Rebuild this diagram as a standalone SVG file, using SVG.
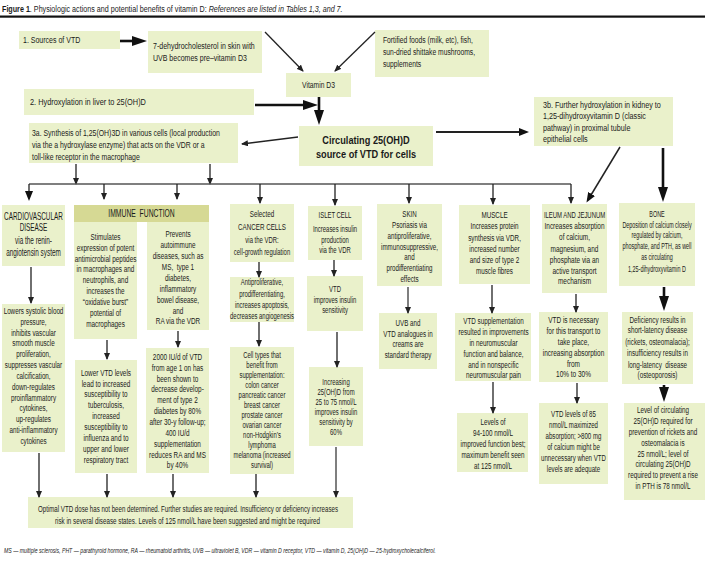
<svg xmlns="http://www.w3.org/2000/svg" width="705" height="578" viewBox="0 0 705 578">
<defs>
<style>
.bx{fill:#eaf1cb}
.hd{fill:#d6d994}
.t{font-family:"Liberation Sans",Arial,sans-serif;font-size:9px;fill:#1a1a1a;text-anchor:middle}
.l{text-anchor:start}
.h{font-size:10px}
.bd{font-weight:bold}
.c{fill:none;stroke:#222;stroke-width:1.3}
.k{fill:none;stroke:#111;stroke-width:2.6}
.g{fill:none;stroke:#555;stroke-width:1.5}
</style>
<marker id="s" viewBox="0 0 7 6" refX="6" refY="3" markerWidth="7" markerHeight="6" markerUnits="userSpaceOnUse" orient="auto"><path d="M0,0L7,3L0,6z" fill="#222"/></marker>
<marker id="m" viewBox="0 0 10 8" refX="7" refY="4" markerWidth="10" markerHeight="8" markerUnits="userSpaceOnUse" orient="auto"><path d="M0,0L10,4L0,8z" fill="#111"/></marker>
<marker id="b" viewBox="0 0 15 10" refX="9" refY="5" markerWidth="15" markerHeight="10" markerUnits="userSpaceOnUse" orient="auto"><path d="M0,0L15,5L0,10z" fill="#111"/></marker>
</defs>
<rect width="705" height="578" fill="#fff"/>

<g id="title">
<text class="t l" style="font-size:9.5px" transform="matrix(.755 0 0 1 2 0)"><tspan x="0" y="12" class="bd">Figure 1</tspan><tspan>. Physiologic actions and potential benefits of vitamin D: </tspan><tspan font-style="italic">References are listed in Tables 1,3, and 7.</tspan></text>
<rect x="0" y="15.5" width="705" height="2.2" fill="#111"/>
</g>

<g id="sources"><rect class="bx" x="19" y="31" width="101" height="18"/>
<text class="t l" transform="matrix(.78 0 0 1 23 0)"><tspan x="0" y="43.5">1. Sources of VTD</tspan></text></g>

<g id="skin-synthesis"><rect class="bx" x="148" y="31" width="114" height="42"/>
<text class="t l" transform="matrix(.78 0 0 1 153 0)"><tspan x="0" y="49">7-dehydrocholesterol in skin with</tspan><tspan x="0" y="61.5">UVB becomes pre–vitamin D3</tspan></text></g>

<g id="foods"><rect class="bx" x="375" y="30" width="114" height="47"/>
<text class="t l" transform="matrix(.75 0 0 1 383 0)"><tspan x="0" y="43.5">Fortified foods (milk, etc), fish,</tspan><tspan x="0" y="55.5">sun-dried shittake mushrooms,</tspan><tspan x="0" y="67.5">supplements</tspan></text></g>

<g id="vitd3"><rect class="bx" x="286" y="73" width="65" height="24"/>
<text class="t" transform="matrix(.75 0 0 1 318.5 0)"><tspan x="0" y="88">Vitamin D3</tspan></text></g>

<g id="liver"><rect class="bx" x="24" y="89" width="230" height="26"/>
<text class="t l" transform="matrix(.82 0 0 1 30 0)"><tspan x="0" y="105">2. Hydroxylation in liver to 25(OH)D</tspan></text></g>

<g id="synthesis-3a"><rect class="bx" x="29" y="123" width="209" height="40"/>
<text class="t l" transform="matrix(.767 0 0 1 32 0)"><tspan x="0" y="136.5">3a. Synthesis of 1,25(OH)3D in various cells (local production</tspan><tspan x="0" y="148.5">via the a hydroxylase enzyme) that acts on the VDR or a</tspan><tspan x="0" y="160">toll-like receptor in the macrophage</tspan></text></g>

<g id="circulating"><rect class="bx" x="299" y="126" width="134" height="40"/>
<text class="t bd" style="font-size:11.5px" transform="matrix(.8 0 0 1 366 0)"><tspan x="0" y="144.5">Circulating 25(OH)D</tspan><tspan x="0" y="158">source of VTD for cells</tspan></text></g>

<g id="kidney-3b"><rect class="bx" x="534" y="97" width="139" height="49"/>
<text class="t l" transform="matrix(.8 0 0 1 543 0)"><tspan x="0" y="108.3">3b. Further hydroxylation in kidney to</tspan><tspan x="0" y="119.3">1,25-dihydroxyvitamin D (classic</tspan><tspan x="0" y="130.6">pathway) in proximal tubule</tspan><tspan x="0" y="141.6">epithelial cells</tspan></text></g>

<g id="cardio"><rect class="bx" x="2" y="205" width="63" height="61"/>
<text class="t h" transform="matrix(.64 0 0 1 33.5 0)"><tspan x="0" y="220">CARDIOVASCULAR</tspan><tspan x="0" y="231.5">DISEASE</tspan><tspan x="0" y="244.5">via the renin-</tspan><tspan x="0" y="256.5">angiotensin system</tspan></text></g>

<g id="cardio-effects"><rect class="bx" x="2" y="304" width="63" height="148"/>
<text class="t" transform="matrix(.7 0 0 1 33.5 0)"><tspan x="0" y="314">Lowers systolic blood</tspan><tspan x="0" y="324.8">pressure,</tspan><tspan x="0" y="335.7">inhibits vascular</tspan><tspan x="0" y="346.5">smooth muscle</tspan><tspan x="0" y="357.3">proliferation,</tspan><tspan x="0" y="368.2">suppresses vascular</tspan><tspan x="0" y="379">calcification,</tspan><tspan x="0" y="389.8">down-regulates</tspan><tspan x="0" y="400.7">proinflammatory</tspan><tspan x="0" y="411.5">cytokines,</tspan><tspan x="0" y="422.3">up-regulates</tspan><tspan x="0" y="433.2">anti-inflammatory</tspan><tspan x="0" y="444">cytokines</tspan></text></g>

<g id="immune-header"><rect class="hd" x="74" y="205" width="135" height="17"/>
<text class="t h" transform="matrix(.68 0 0 1 141.5 0)"><tspan x="0" y="217.5">IMMUNE&#160; FUNCTION</tspan></text></g>

<g id="immune-stimulates"><rect class="bx" x="74" y="222" width="63" height="117"/>
<text class="t" transform="matrix(.71 0 0 1 105.5 0)"><tspan x="0" y="240">Stimulates</tspan><tspan x="0" y="250.6">expression of potent</tspan><tspan x="0" y="261.6">antimicrobial peptides</tspan><tspan x="0" y="272.3">in macrophages and</tspan><tspan x="0" y="283.3">neutrophils, and</tspan><tspan x="0" y="294">increases the</tspan><tspan x="0" y="305">“oxidative burst”</tspan><tspan x="0" y="316">potential of</tspan><tspan x="0" y="326.6">macrophages</tspan></text></g>

<g id="immune-prevents"><rect class="bx" x="147" y="222" width="62" height="108"/>
<text class="t" transform="matrix(.71 0 0 1 178 0)"><tspan x="0" y="237.3">Prevents</tspan><tspan x="0" y="248.3">autoimmune</tspan><tspan x="0" y="259.3">diseases, such as</tspan><tspan x="0" y="270">MS,&#160; type 1</tspan><tspan x="0" y="280.6">diabetes,</tspan><tspan x="0" y="291.6">inflammatory</tspan><tspan x="0" y="302.6">bowel disease,</tspan><tspan x="0" y="314">and</tspan><tspan x="0" y="324">RA via the VDR</tspan></text></g>

<g id="immune-lower"><rect class="bx" x="75" y="360" width="62" height="113"/>
<text class="t" transform="matrix(.71 0 0 1 106 0)"><tspan x="0" y="376">Lower VTD levels</tspan><tspan x="0" y="386.6">lead to increased</tspan><tspan x="0" y="397.3">susceptibility to</tspan><tspan x="0" y="408.3">tuberculosis,</tspan><tspan x="0" y="419">increased</tspan><tspan x="0" y="429.6">susceptibility to</tspan><tspan x="0" y="441">influenza and to</tspan><tspan x="0" y="451.6">upper and lower</tspan><tspan x="0" y="462.6">respiratory tract</tspan></text></g>

<g id="immune-2000"><rect class="bx" x="146" y="348" width="63" height="125"/>
<text class="t" transform="matrix(.71 0 0 1 177.5 0)"><tspan x="0" y="360">2000 IU/d of VTD</tspan><tspan x="0" y="370.9">from age 1 on has</tspan><tspan x="0" y="381.7">been shown to</tspan><tspan x="0" y="392.5">decrease develop-</tspan><tspan x="0" y="403.4">ment of type 2</tspan><tspan x="0" y="414.2">diabetes by 80%</tspan><tspan x="0" y="425.1">after 30-y follow-up;</tspan><tspan x="0" y="435.9">400 IU/d</tspan><tspan x="0" y="446.8">supplementation</tspan><tspan x="0" y="457.6">reduces RA and MS</tspan><tspan x="0" y="468.5">by 40%</tspan></text></g>

<g id="cancer"><rect class="bx" x="230" y="204" width="64" height="58"/>
<text class="t" transform="matrix(.66 0 0 1 262 0)"><tspan x="0" y="216.6" style="font-size:9.5px">Selected</tspan><tspan x="0" y="230" style="font-size:9.5px">CANCER CELLS</tspan><tspan x="0" y="242.6">via the VDR:</tspan><tspan x="0" y="255">cell-growth regulation</tspan></text></g>

<g id="cancer-effects"><rect class="bx" x="230" y="277" width="64" height="45"/>
<text class="t" transform="matrix(.66 0 0 1 262 0)"><tspan x="0" y="285">Antiproliferative,</tspan><tspan x="0" y="296.6">prodifferentiating,</tspan><tspan x="0" y="307.6">increases apoptosis,</tspan><tspan x="0" y="319.3">decreases angiogenesis</tspan></text></g>

<g id="cancer-types"><rect class="bx" x="230" y="347" width="64" height="127"/>
<text class="t" transform="matrix(.66 0 0 1 262 0)"><tspan x="0" y="358.3">Cell types that</tspan><tspan x="0" y="368.3">benefit from</tspan><tspan x="0" y="378.3">supplementation:</tspan><tspan x="0" y="388.3">colon cancer</tspan><tspan x="0" y="398.3">pancreatic cancer</tspan><tspan x="0" y="408.3">breast cancer</tspan><tspan x="0" y="418.3">prostate cancer</tspan><tspan x="0" y="428.3">ovarian cancer</tspan><tspan x="0" y="438.3">non-Hodgkin’s</tspan><tspan x="0" y="448.3">lymphoma</tspan><tspan x="0" y="458.3">melanoma (increased</tspan><tspan x="0" y="468.3">survival)</tspan></text></g>

<g id="islet"><rect class="bx" x="308" y="206" width="54" height="54"/>
<text class="t" transform="matrix(.66 0 0 1 335 0)"><tspan x="0" y="218.3">ISLET CELL</tspan><tspan x="0" y="231.6">Increases insulin</tspan><tspan x="0" y="242.6">production</tspan><tspan x="0" y="253.3">via the VDR</tspan></text></g>

<g id="islet-sensitivity"><rect class="bx" x="307" y="276" width="56" height="55"/>
<text class="t" transform="matrix(.66 0 0 1 335 0)"><tspan x="0" y="291.6">VTD</tspan><tspan x="0" y="302.6">improves insulin</tspan><tspan x="0" y="313.3">sensitivity</tspan></text></g>

<g id="islet-increase"><rect class="bx" x="309" y="367" width="54" height="79"/>
<text class="t" transform="matrix(.66 0 0 1 336 0)"><tspan x="0" y="385">Increasing</tspan><tspan x="0" y="395">25(OH)D from</tspan><tspan x="0" y="405">25 to 75 nmol/L</tspan><tspan x="0" y="415">improves insulin</tspan><tspan x="0" y="425">sensitivity by</tspan><tspan x="0" y="435.5">60%</tspan></text></g>

<g id="skin"><rect class="bx" x="377" y="204" width="65" height="82"/>
<text class="t" transform="matrix(.69 0 0 1 409.5 0)"><tspan x="0" y="216.6">SKIN</tspan><tspan x="0" y="228.3">Psoriasis via</tspan><tspan x="0" y="239.3">antiproliferative,</tspan><tspan x="0" y="250">immunosuppressive,</tspan><tspan x="0" y="260">and</tspan><tspan x="0" y="270.6">prodifferentiating</tspan><tspan x="0" y="281.6">effects</tspan></text></g>

<g id="skin-therapy"><rect class="bx" x="379" y="313" width="58" height="56"/>
<text class="t" transform="matrix(.69 0 0 1 408 0)"><tspan x="0" y="326">UVB and</tspan><tspan x="0" y="336.6">VTD analogues in</tspan><tspan x="0" y="347.3">creams are</tspan><tspan x="0" y="358.3">standard therapy</tspan></text></g>

<g id="muscle"><rect class="bx" x="459" y="205" width="71" height="79"/>
<text class="t" transform="matrix(.7 0 0 1 494.5 0)"><tspan x="0" y="218.3">MUSCLE</tspan><tspan x="0" y="229.3">Increases protein</tspan><tspan x="0" y="240.6">synthesis via VDR,</tspan><tspan x="0" y="251.6">increased number</tspan><tspan x="0" y="262.6">and size of type 2</tspan><tspan x="0" y="274">muscle fibres</tspan></text></g>

<g id="muscle-supplementation"><rect class="bx" x="455" y="313" width="76" height="68"/>
<text class="t" transform="matrix(.7 0 0 1 493.5 0)"><tspan x="0" y="324">VTD supplementation</tspan><tspan x="0" y="335">resulted in improvements</tspan><tspan x="0" y="346">in neuromuscular</tspan><tspan x="0" y="356.6">function and balance,</tspan><tspan x="0" y="367.6">and in nonspecific</tspan><tspan x="0" y="378.3">neuromuscular pain</tspan></text></g>

<g id="muscle-levels"><rect class="bx" x="457" y="413" width="71" height="59"/>
<text class="t" transform="matrix(.7 0 0 1 493 0)"><tspan x="0" y="425">Levels of</tspan><tspan x="0" y="436">94-100 nmol/L</tspan><tspan x="0" y="446.6">improved function best;</tspan><tspan x="0" y="457.6">maximum benefit seen</tspan><tspan x="0" y="468.6">at 125 nmol/L</tspan></text></g>

<g id="ileum"><rect class="bx" x="542" y="204" width="65" height="89"/>
<text class="t" transform="matrix(.66 0 0 1 574.5 0)"><tspan x="0" y="217.6">ILEUM AND JEJUNUM</tspan></text>
<text class="t" transform="matrix(.72 0 0 1 574.5 0)"><tspan x="0" y="229.3">Increases absorption</tspan><tspan x="0" y="240">of calcium,</tspan><tspan x="0" y="251.6">magnesium, and</tspan><tspan x="0" y="262.6">phosphate via an</tspan><tspan x="0" y="274">active transport</tspan><tspan x="0" y="284.3">mechanism</tspan></text></g>

<g id="ileum-transport"><rect class="bx" x="539" y="312" width="69" height="70"/>
<text class="t" transform="matrix(.72 0 0 1 573.5 0)"><tspan x="0" y="322.6">VTD is necessary</tspan><tspan x="0" y="334">for this transport to</tspan><tspan x="0" y="345">take place,</tspan><tspan x="0" y="356">increasing absorption</tspan><tspan x="0" y="366.6">from</tspan><tspan x="0" y="376.6">10% to 30%</tspan></text></g>

<g id="ileum-levels"><rect class="bx" x="539" y="403" width="69" height="81"/>
<text class="t" transform="matrix(.68 0 0 1 573.5 0)"><tspan x="0" y="417.3">VTD levels of 85</tspan><tspan x="0" y="428.3">nmol/L maximized</tspan><tspan x="0" y="439">absorption; &gt;800 mg</tspan><tspan x="0" y="450">of calcium might be</tspan><tspan x="0" y="461">unnecessary when VTD</tspan><tspan x="0" y="471.6">levels are adequate</tspan></text></g>

<g id="bone"><rect class="bx" x="619" y="203" width="76" height="83"/>
<text class="t" transform="matrix(.6 0 0 1 657 0)"><tspan x="0" y="216.6">BONE</tspan><tspan x="0" y="227.6">Deposition of calcium closely</tspan><tspan x="0" y="238.3">regulated by calcium,</tspan><tspan x="0" y="249.3">phosphate, and PTH, as well</tspan><tspan x="0" y="260">as circulating</tspan><tspan x="0" y="271.6">1,25-dihydroxyvitamin D</tspan></text></g>

<g id="bone-deficiency"><rect class="bx" x="622" y="312" width="71" height="72"/>
<text class="t" transform="matrix(.7 0 0 1 657.5 0)"><tspan x="0" y="322.6">Deficiency results in</tspan><tspan x="0" y="333.3">short-latency disease</tspan><tspan x="0" y="345">(rickets, osteomalacia);</tspan><tspan x="0" y="356">insufficiency results in</tspan><tspan x="0" y="367.6">long-latency&#160; disease</tspan><tspan x="0" y="378.3">(osteoporosis)</tspan></text></g>

<g id="bone-levels"><rect class="bx" x="624" y="403" width="81" height="97"/>
<text class="t" transform="matrix(.7 0 0 1 663 0)"><tspan x="0" y="413.3">Level of circulating</tspan><tspan x="0" y="424.3">25(OH)D required for</tspan><tspan x="0" y="435">prevention of rickets and</tspan><tspan x="0" y="446">osteomalacia is</tspan><tspan x="0" y="456.6">25 nmol/L; level of</tspan><tspan x="0" y="467.3">circulating 25(OH)D</tspan><tspan x="0" y="478.3">required to prevent a rise</tspan><tspan x="0" y="489.3">in PTH is 78 nmol/L</tspan></text></g>

<g id="optimal"><rect class="bx" x="28" y="497" width="325" height="31"/>
<text class="t l" x="38" y="511.5" textLength="300" lengthAdjust="spacingAndGlyphs">Optimal VTD dose has not been determined. Further studies are required. Insufficiency or deficiency increases</text>
<text class="t l" x="55" y="523.5" textLength="265" lengthAdjust="spacingAndGlyphs">risk in several disease states. Levels of 125 nmol/L have been suggested and might be required</text></g>

<g id="footnote"><text class="t l" style="font-size:8px;font-style:italic" transform="matrix(.647 0 0 1 4 0)"><tspan x="0" y="553">MS — multiple sclerosis, PHT — parathyroid hormone, RA — rheumatoid arthritis, UVB — ultraviolet B, VDR — vitamin D receptor, VTD — vitamin D, 25(OH)D — 25-hydroxycholecalciferol.</tspan></text></g>

<g id="connectors">
<path class="k" d="M120,41H141" marker-end="url(#b)"/>
<path class="c" d="M265,32L303,71" marker-end="url(#s)"/>
<path class="c" d="M375,32L335,71" marker-end="url(#s)"/>
<path class="k" d="M255,105H312" marker-end="url(#b)"/>
<path class="k" d="M319,97V119" marker-end="url(#b)"/>
<path class="c" d="M298,137L242,144" marker-end="url(#s)"/>
<path class="c" style="stroke-width:2" d="M436,132H526" marker-end="url(#m)"/>
<path class="c" d="M76,164V184" marker-end="url(#s)"/>
<path class="c" d="M210,164V184" marker-end="url(#s)"/>
<path class="g" d="M29,184H571"/>
<path class="c" d="M29,184V198" marker-end="url(#m)"/>
<path class="c" d="M104,184V199" marker-end="url(#s)"/>
<path class="c" d="M177,184V199" marker-end="url(#s)"/>
<path class="c" d="M260,184V203" marker-end="url(#s)"/>
<path class="c" d="M335,184V205" marker-end="url(#s)"/>
<path class="c" d="M409,184V203" marker-end="url(#s)"/>
<path class="c" d="M493,184V204" marker-end="url(#s)"/>
<path class="c" d="M571,184V203" marker-end="url(#s)"/>
<path class="c" style="stroke-width:1.5" d="M620,147L588,200" marker-end="url(#m)"/>
<path class="k" d="M663,148V196" marker-end="url(#b)"/>
<path class="c" d="M31,267V303" marker-end="url(#s)"/>
<path class="c" d="M39,453V497" marker-end="url(#s)"/>
<path class="c" d="M107,340V359" marker-end="url(#s)"/>
<path class="c" d="M178,331V347" marker-end="url(#s)"/>
<path class="c" d="M107,474V497" marker-end="url(#s)"/>
<path class="c" d="M173,474V497" marker-end="url(#s)"/>
<path class="c" d="M259,262V277" marker-end="url(#s)"/>
<path class="c" d="M259,322V346" marker-end="url(#s)"/>
<path class="c" d="M256,474V497" marker-end="url(#s)"/>
<path class="c" d="M334,260V276" marker-end="url(#s)"/>
<path class="c" d="M337,332V367" marker-end="url(#s)"/>
<path class="g" d="M336,447V497" marker-end="url(#s)"/>
<path class="g" d="M408,287V313" marker-end="url(#s)"/>
<path class="c" d="M492,285V313" marker-end="url(#s)"/>
<path class="c" d="M493,382V413" marker-end="url(#s)"/>
<path class="c" d="M576,294V312" marker-end="url(#s)"/>
<path class="c" d="M577,383V403" marker-end="url(#s)"/>
<path class="k" d="M664,287V305" marker-end="url(#b)"/>
<path class="k" d="M664,385V396" marker-end="url(#b)"/>
</g>
</svg>
